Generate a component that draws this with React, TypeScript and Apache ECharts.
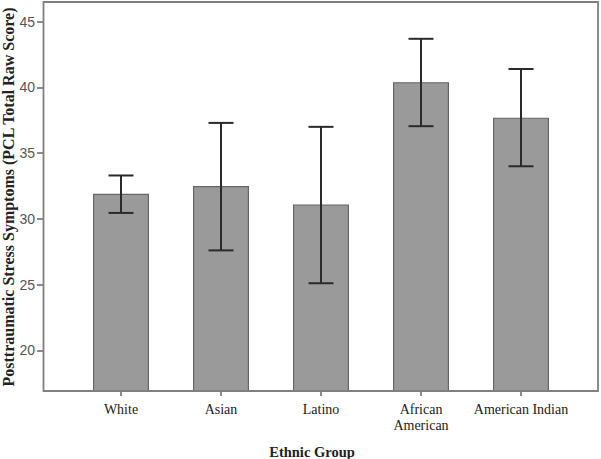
import React, { useEffect, useRef } from "react";
import * as echarts from "echarts";

const categories = ["White", "Asian", "Latino", "African\nAmerican", "American Indian"];
const means = [31.9, 32.5, 31.1, 40.4, 37.7];
const lowerCI = [30.45, 27.6, 25.1, 37.05, 34.0];
const upperCI = [33.3, 37.3, 37.0, 43.7, 41.4];
const yTicks = [20, 25, 30, 35, 40, 45];
const yTitle = "Posttraumatic Stress Symptoms (PCL Total Raw Score)";
const xTitle = "Ethnic Group";

export default function App() {
  const ref = useRef<HTMLDivElement>(null);
  useEffect(() => {
    document.body.style.margin = "0";
    if (!ref.current) return;
    const chart = echarts.init(ref.current, null, { renderer: "svg" });
    const errData = categories.map((_, i) => [i, lowerCI[i], upperCI[i]]);
    chart.setOption({
      animation: false,
      backgroundColor: "#ffffff",
      grid: { left: 71, right: 30, top: 2, bottom: 68, containLabel: false, outerBoundsMode: "none" },
      xAxis: {
        type: "category",
        data: categories,
        axisLine: { show: false },
        axisTick: { show: true, alignWithLabel: true, length: 5, lineStyle: { color: "#666", width: 1.5 } },
        axisLabel: {
          interval: 0,
          hideOverlap: false,
          margin: 10,
          fontFamily: "Liberation Serif",
          fontSize: 14,
          color: "#222",
          lineHeight: 16,
        },
      },
      yAxis: {
        type: "value",
        min: 16.9,
        max: 46.5,
        offset: 28,
        splitLine: { show: false },
        axisLine: { show: false },
        axisTick: { show: true, inside: false, length: 6, customValues: yTicks, lineStyle: { color: "#666", width: 1.5 } },
        axisLabel: {
          customValues: yTicks,
          margin: 8,
          fontFamily: "Liberation Sans",
          fontSize: 14,
          color: "#555",
        },
      },
      graphic: [
        {
          type: "rect",
          shape: { x: 43.5, y: 2, width: 554.5, height: 389 },
          style: { fill: "none", stroke: "#808080", lineWidth: 1.8 },
          z: 10,
        },
        {
          type: "text",
          x: 8.5,
          y: 197,
          rotation: Math.PI / 2,
          style: {
            text: yTitle,
            fontFamily: "Liberation Serif",
            fontWeight: "bold",
            fontSize: 16,
            fill: "#222",
            align: "center",
            verticalAlign: "middle",
          },
        },
        {
          type: "text",
          x: 312,
          y: 452,
          style: {
            text: xTitle,
            fontFamily: "Liberation Serif",
            fontWeight: "bold",
            fontSize: 14.5,
            fill: "#222",
            align: "center",
            verticalAlign: "middle",
          },
        },
      ],
      series: [
        {
          type: "bar",
          data: means,
          barWidth: 56,
          itemStyle: { color: "#9a9a9a", borderColor: "#666", borderWidth: 1.2 },
        },
        {
          type: "custom",
          data: errData,
          z: 5,
          renderItem: (params: any, api: any) => {
            const x = api.value(0);
            const lo = api.coord([x, api.value(1)]);
            const hi = api.coord([x, api.value(2)]);
            const half = 12.5;
            const style = { stroke: "#2a2a2a", lineWidth: 2 };
            return {
              type: "group",
              children: [
                { type: "line", shape: { x1: lo[0], y1: lo[1], x2: hi[0], y2: hi[1] }, style },
                { type: "line", shape: { x1: lo[0] - half, y1: lo[1], x2: lo[0] + half, y2: lo[1] }, style },
                { type: "line", shape: { x1: hi[0] - half, y1: hi[1], x2: hi[0] + half, y2: hi[1] }, style },
              ],
            };
          },
        },
      ],
    });
    return () => chart.dispose();
  }, []);
  return <div ref={ref} style={{ width: 601, height: 459 }} />;
}
